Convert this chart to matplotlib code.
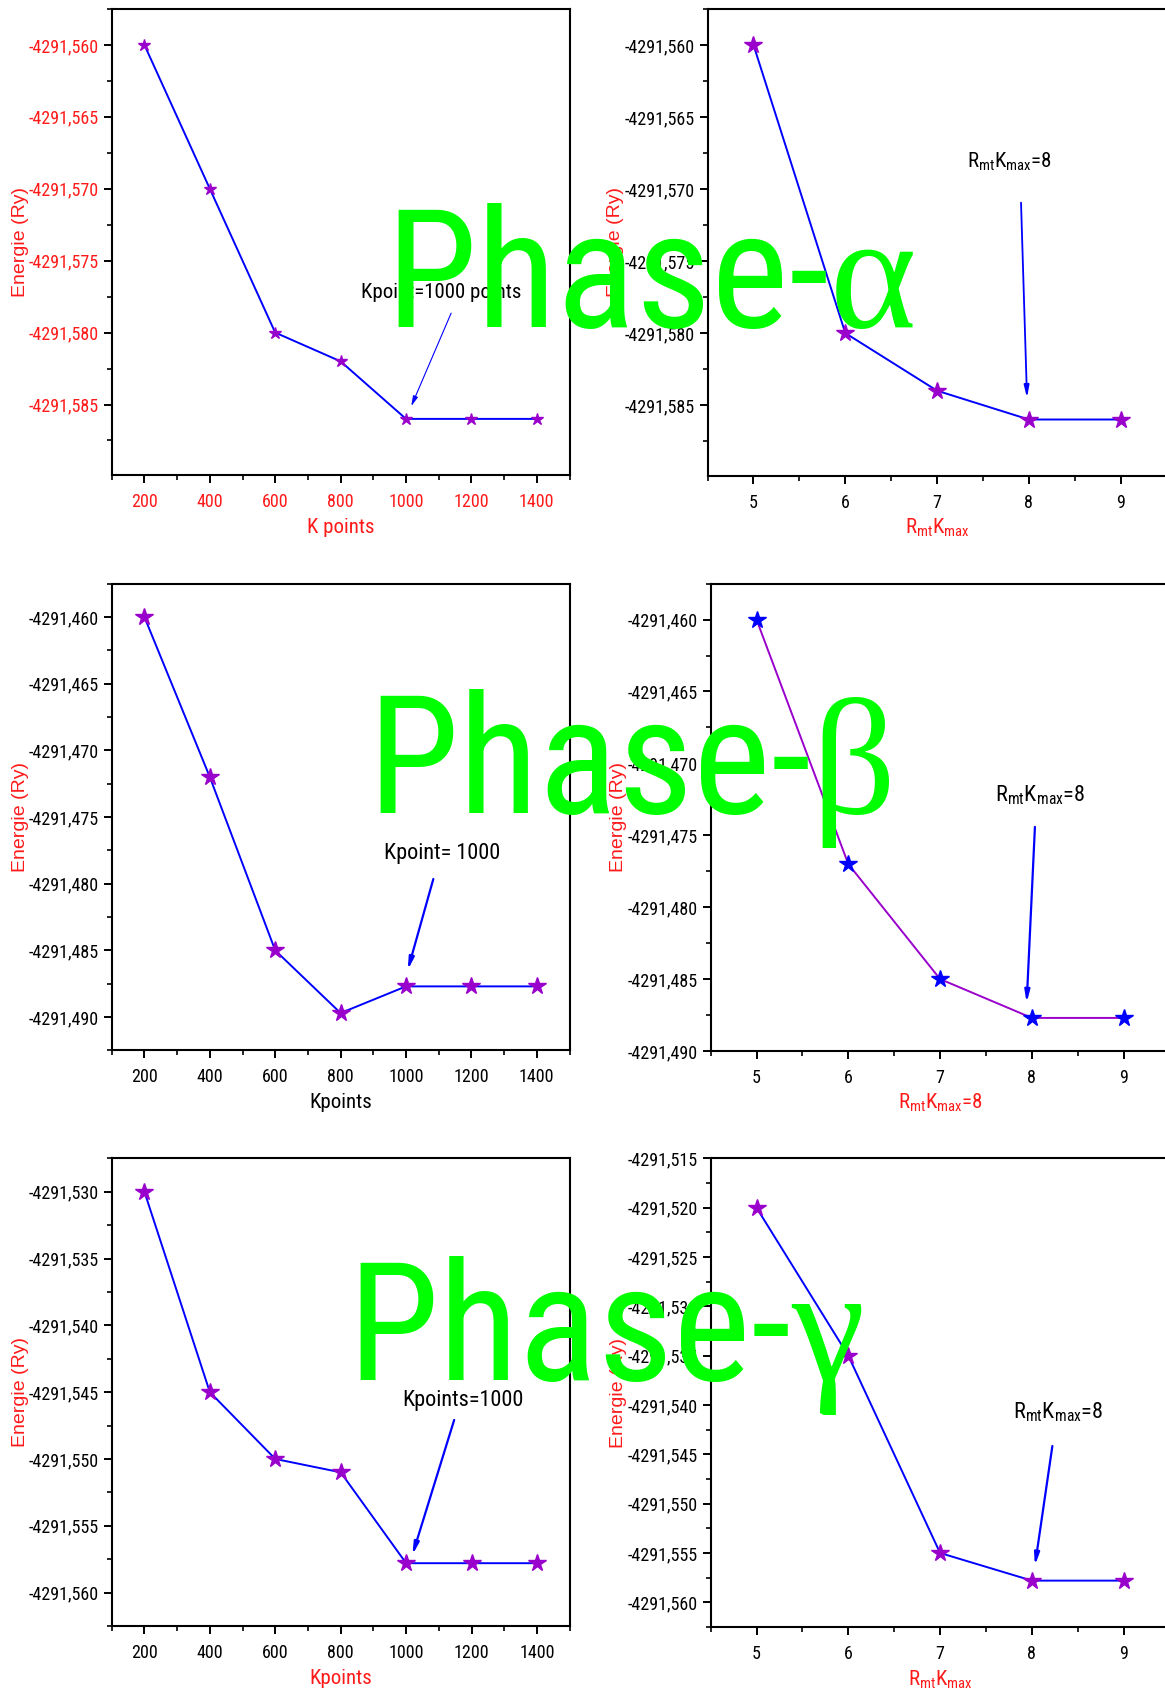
import matplotlib
matplotlib.use('Agg')
import matplotlib.pyplot as plt
from matplotlib import font_manager
from matplotlib.ticker import MultipleLocator, FuncFormatter

# police étroite (type Arial Narrow) si disponible
installed = {f.name for f in font_manager.fontManager.ttflist}
NARROW = 'Liberation Sans'
for name in ['Liberation Sans Narrow', 'Arial Narrow', 'Roboto Condensed',
             'PT Sans Narrow', 'Archivo Narrow']:
    if name in installed:
        NARROW = name
        break
plt.rcParams['font.family'] = [NARROW, 'DejaVu Sans']
plt.rcParams['mathtext.default'] = 'regular'

# données
kpoints = [200, 400, 600, 800, 1000, 1200, 1400]
rmtkmax = [5, 6, 7, 8, 9]

e_alpha_k = [-4291.560, -4291.570, -4291.580, -4291.582, -4291.586, -4291.586, -4291.586]
e_alpha_r = [-4291.560, -4291.580, -4291.584, -4291.586, -4291.586]
e_beta_k = [-4291.460, -4291.472, -4291.485, -4291.4897, -4291.4877, -4291.4877, -4291.4877]
e_beta_r = [-4291.460, -4291.477, -4291.485, -4291.4877, -4291.4877]
e_gamma_k = [-4291.530, -4291.545, -4291.550, -4291.551, -4291.5578, -4291.5578, -4291.5578]
e_gamma_r = [-4291.520, -4291.535, -4291.555, -4291.5578, -4291.5578]

phases = ['Phase-', 'Phase-', 'Phase-']
greek = ['\u03b1', '\u03b2', '\u03b3']

RED = '#ff1a1a'
BLUE = '#0000ff'
VIOLET = '#9a00cc'

W, H = 1165, 1692
fig = plt.figure(figsize=(W / 100, H / 100), dpi=100)


def add_ax(left, top, right, bottom):
    return fig.add_axes([left / W, 1 - bottom / H, (right - left) / W, (bottom - top) / H])


def comma(v, pos):
    return f"{v:.3f}".replace('.', ',')


def setup(ax, x, y, xlim, ylim, xstep, xlabel, xlabel_col, tick_col,
          line_col, mark_col, ms):
    ax.plot(x, y, color=line_col, lw=1.4, marker='*', ms=ms,
            markerfacecolor=mark_col, markeredgecolor=mark_col, zorder=3)
    ax.set_xlim(*xlim)
    ax.set_ylim(*ylim)
    ax.xaxis.set_major_locator(MultipleLocator(xstep))
    ax.xaxis.set_minor_locator(MultipleLocator(xstep / 2))
    ax.yaxis.set_major_locator(MultipleLocator(0.005))
    ax.yaxis.set_minor_locator(MultipleLocator(0.0025))
    ax.yaxis.set_major_formatter(FuncFormatter(comma))
    ax.tick_params(which='major', direction='out', length=6, width=1.4,
                   labelsize=13, labelcolor=tick_col)
    ax.tick_params(which='minor', direction='out', length=3.5, width=1.2)
    ax.tick_params(axis='y', pad=3)
    ax.tick_params(axis='x', pad=7)
    for sp in ax.spines.values():
        sp.set_linewidth(1.5)
    ax.set_xlabel(xlabel, color=xlabel_col, fontsize=15, va='center')
    ax.xaxis.set_label_coords(0.5, -0.112)
    ax.set_ylabel('Energie (Ry)', color=RED, fontsize=14,
                  family=['Liberation Sans', 'DejaVu Sans'], va='center')
    ax.yaxis.set_label_coords(-0.20, 0.5)


def arrow(ax, text, txy, start, end, fs, lw, hw, hl):
    ax.text(txy[0], txy[1], text, fontsize=fs, ha='left', va='center', color='black')
    ax.annotate('', xy=end, xytext=start,
                arrowprops=dict(arrowstyle=f'-|>,head_width={hw},head_length={hl}',
                                color=BLUE, lw=lw, shrinkA=0, shrinkB=0))


RK = r'R$_{mt}$K$_{max}$'

# ligne 1 : phase alpha
ax1 = add_ax(111.7, 8.9, 569.5, 475)
setup(ax1, kpoints, e_alpha_k, (100, 1500), (-4291.5899, -4291.5575), 200,
      'K points', RED, RED, BLUE, VIOLET, 9)
arrow(ax1, 'Kpoint=1000 points', (861, -4291.5772), (1138, -4291.57865),
      (1016, -4291.58512), 15, 0.8, 0.15, 0.6)

ax2 = add_ax(707.6, 8.9, 1166.5, 475.7)
setup(ax2, rmtkmax, e_alpha_r, (4.5, 9.5), (-4291.5899, -4291.5575), 1,
      RK, RED, 'black', BLUE, VIOLET, 13)
arrow(ax2, RK + '=8', (7.33, -4291.5681), (7.915, -4291.57095),
      (7.98, -4291.5845), 15, 1.3, 0.15, 0.7)

# ligne 2 : phase beta
ax3 = add_ax(111.7, 583.6, 569.5, 1050.4)
setup(ax3, kpoints, e_beta_k, (100, 1500), (-4291.4925, -4291.4575), 200,
      'Kpoints', 'black', 'black', BLUE, VIOLET, 13)
arrow(ax3, 'Kpoint= 1000', (934, -4291.47777), (1083.6, -4291.47965),
      (1005.4, -4291.48647), 16, 1.6, 0.15, 0.7)

ax4 = add_ax(710.6, 583.6, 1169.6, 1051)
setup(ax4, rmtkmax, e_beta_r, (4.5, 9.5), (-4291.490, -4291.4575), 1,
      RK + '=8', RED, 'black', VIOLET, BLUE, 13)
arrow(ax4, RK + '=8', (7.60, -4291.47222), (8.033, -4291.47442),
      (7.943, -4291.48665), 16, 1.6, 0.15, 0.7)

# ligne 3 : phase gamma
ax5 = add_ax(111.7, 1158.3, 569.7, 1626)
setup(ax5, kpoints, e_gamma_k, (100, 1500), (-4291.5625, -4291.5275), 200,
      'Kpoints', RED, 'black', BLUE, VIOLET, 13)
arrow(ax5, 'Kpoints=1000', (988, -4291.54564), (1146.9, -4291.54708),
      (1019.2, -4291.55718), 16, 1.6, 0.15, 0.7)

ax6 = add_ax(710.6, 1158.3, 1169.6, 1627)
setup(ax6, rmtkmax, e_gamma_r, (4.5, 9.5), (-4291.5625, -4291.515), 1,
      RK, RED, 'black', BLUE, VIOLET, 13)
arrow(ax6, RK + '=8', (7.796, -4291.54073), (8.223, -4291.54416),
      (8.033, -4291.55627), 16, 1.6, 0.15, 0.7)

# grands titres verts par-dessus
origins = [(385, 326.7), (367, 813.3), (347, 1380)]
fig.canvas.draw()
renderer = fig.canvas.get_renderer()
for word, g, (px, py) in zip(phases, greek, origins):
    t = fig.text(px / W, 1 - py / H, word, fontsize=119, color='#00ff00',
                 ha='left', va='baseline', zorder=10)
    bb = t.get_window_extent(renderer)
    fig.text(bb.x1 / W, 1 - py / H, g, fontsize=119, color='#00ff00',
             family=['Liberation Serif', 'DejaVu Serif'],
             ha='left', va='baseline', zorder=10)

fig.savefig('out.png', dpi=100)
